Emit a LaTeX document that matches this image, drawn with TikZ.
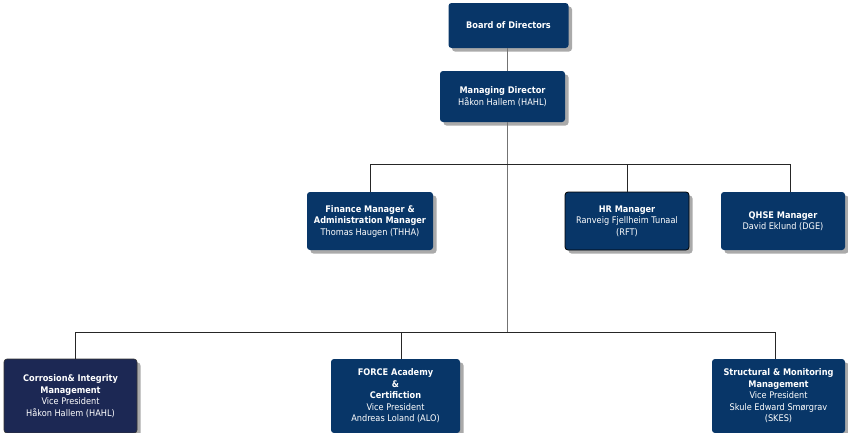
\documentclass[tikz,border=0pt]{standalone}
\usepackage{fontspec}
\setmainfont{DejaVu Sans Condensed}
\usetikzlibrary{shadows}
\definecolor{navy}{RGB}{8,54,104}
\definecolor{darknavy}{RGB}{28,40,84}
\definecolor{shadowgray}{RGB}{170,170,170}
\begin{document}
\begin{tikzpicture}[x=1pt,y=-1pt,
  orgbox/.style={rectangle, rounded corners=3pt, fill=navy, text=white,
    align=center, inner sep=0pt, font=\fontsize{9.1}{11.5}\selectfont,
    drop shadow={shadow xshift=3.5pt, shadow yshift=-3.5pt, fill=shadowgray, opacity=1}},
  conn/.style={draw=black!85, line width=0.8pt},
  vconn/.style={draw=black!55, line width=1pt}]
\useasboundingbox (0,0) rectangle (848,432);
\begin{scope}
\clip (0,0) rectangle (848,432);
% boxes
\node[orgbox, minimum width=120pt, minimum height=45pt] (board) at (508.5,25.5) {\textbf{Board of Directors}};
\node[orgbox, minimum width=125pt, minimum height=51pt] (md) at (502.5,96.5) {\textbf{Managing Director}\\Håkon Hallem (HAHL)};
\node[orgbox, minimum width=126pt, minimum height=58pt] (fin) at (370,221) {\textbf{Finance Manager \&}\\\textbf{Administration Manager}\\Thomas Haugen (THHA)};
\node[orgbox, draw=black, line width=0.8pt, minimum width=124pt, minimum height=58pt] (hr) at (627,221) {\textbf{HR Manager}\\Ranveig Fjellheim Tunaal\\(RFT)};
\node[orgbox, minimum width=124pt, minimum height=58pt] (qhse) at (783,221) {\textbf{QHSE Manager}\\David Eklund (DGE)};
\node[orgbox, fill=darknavy, draw=black!80, line width=0.6pt, minimum width=133pt, minimum height=74pt] (corr) at (70.5,396) {\textbf{Corrosion\& Integrity}\\\textbf{Management}\\Vice President\\Håkon Hallem (HAHL)};
\node[orgbox, minimum width=129pt, minimum height=74pt] (force) at (395.5,396) {\textbf{FORCE Academy}\\\textbf{\&}\\\textbf{Certifiction}\\Vice President\\Andreas Loland (ALO)};
\node[orgbox, minimum width=133pt, minimum height=74pt] (struct) at (778.5,396) {\textbf{Structural \& Monitoring}\\\textbf{Management}\\Vice President\\Skule Edward Smørgrav\\(SKES)};
% junctions
\coordinate (jmid) at (507,164);
\coordinate (jfin) at (370,164);
\coordinate (jhr) at (627,164);
\coordinate (jqhse) at (790,164);
\coordinate (jlow) at (507,332);
\coordinate (jcorr) at (75,332);
\coordinate (jforce) at (401,332);
\coordinate (jstruct) at (775,332);
% connectors
\draw[vconn] (board.south -| jmid) -- (md.north -| jmid);
\draw[vconn] (md.south -| jmid) -- (jlow);
\draw[conn] (jfin) -- (jqhse);
\draw[conn] (jfin) -- (fin.north -| jfin);
\draw[conn] (jhr) -- (hr.north -| jhr);
\draw[conn] (jqhse) -- (qhse.north -| jqhse);
\draw[conn] (jcorr) -- (jstruct);
\draw[conn] (jcorr) -- (corr.north -| jcorr);
\draw[conn] (jforce) -- (force.north -| jforce);
\draw[conn] (jstruct) -- (struct.north -| jstruct);
\end{scope}
\end{tikzpicture}
\end{document}
